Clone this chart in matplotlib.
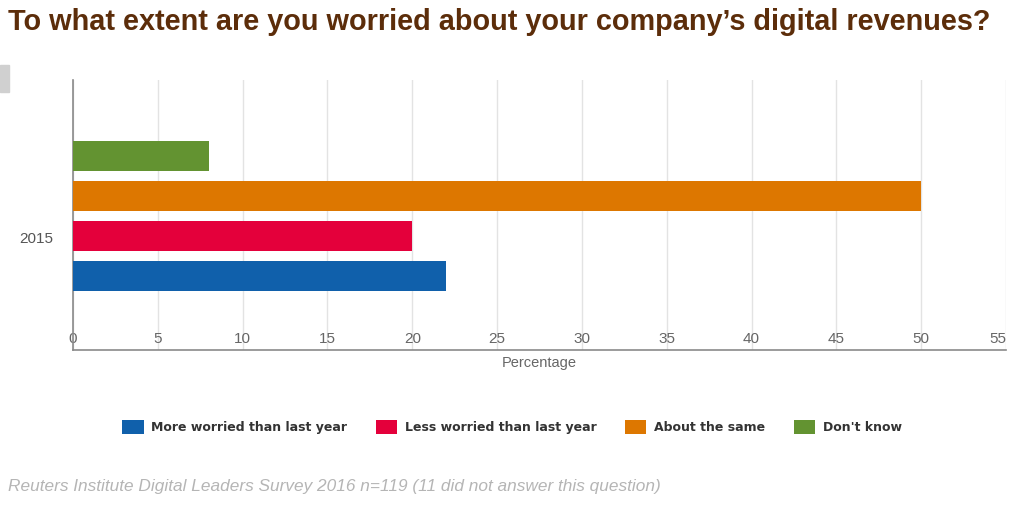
import matplotlib.pyplot as plt
from matplotlib.patches import Rectangle

TITLE = 'To what extent are you worried about your company\u2019s digital revenues?'
SOURCE = 'Reuters Institute Digital Leaders Survey 2016 n=119 (11 did not answer this question)'
YEAR = '2015'
LABELS = ['More worried than last year', 'Less worried than last year', 'About the same', "Don't know"]
VALUES = [22, 20, 50, 8]
COLORS = ['#1060ab', '#e4003b', '#dd7700', '#639331']
XTICKS = [0, 5, 10, 15, 20, 25, 30, 35, 40, 45, 50, 55]

fig = plt.figure(figsize=(10.24, 5.19), dpi=100)
ax = fig.add_axes([73 / 1024, 1 - 350 / 519, 933 / 1024, 270 / 519])

positions = list(range(len(VALUES)))
bars = ax.barh(positions, VALUES, height=0.75, color=COLORS, zorder=3)

ax.set_xlim(0, 55)
ax.set_ylim(-1.8625, 4.8875)
ax.set_xticks(XTICKS)
ax.set_yticks([0.96])
ax.set_yticklabels([YEAR])
ax.grid(axis='x', color='#e3e3e3', linewidth=1, zorder=0)

for side in ['top', 'right']:
    ax.spines[side].set_visible(False)
for side in ['left', 'bottom']:
    ax.spines[side].set_color('#8a8a8a')
    ax.spines[side].set_linewidth(1.2)

ax.tick_params(axis='x', length=0, pad=-13, labelsize=11, labelcolor='#666666')
ax.tick_params(axis='y', length=0, pad=14, labelsize=11, labelcolor='#555555')
for lbl in ax.get_xticklabels():
    lbl.set_family('Liberation Sans')
xl = ax.get_xticklabels()
xl[-1].set_horizontalalignment('right')
for lbl in ax.get_yticklabels():
    lbl.set_family('Liberation Sans')

ax.set_xlabel('Percentage', fontsize=10.5, color='#666666', family='Liberation Sans', labelpad=4)

fig.legend(bars, LABELS, loc='center', bbox_to_anchor=(0.5, 1 - 427 / 519), ncol=4,
           frameon=False, handlelength=1.7, handleheight=1.3, columnspacing=2.3,
           handletextpad=0.6, prop={'family': 'DejaVu Sans', 'weight': 'bold', 'size': 9},
           labelcolor='#333333')

fig.text(8 / 1024, 1 - 22 / 519, TITLE, fontsize=20.8, fontweight='bold', color='#5c2d0a',
         family='Liberation Sans', va='center', ha='left')
fig.text(8 / 1024, 1 - 487 / 519, SOURCE, fontsize=12.4, style='italic', color='#b5b5b5',
         family='Liberation Sans', va='center', ha='left')

fig.patches.append(Rectangle((0, 1 - 92 / 519), 9 / 1024, 27 / 519, transform=fig.transFigure,
                             color='#d0d0d0', zorder=0))

fig.savefig('out.png', dpi=100)
